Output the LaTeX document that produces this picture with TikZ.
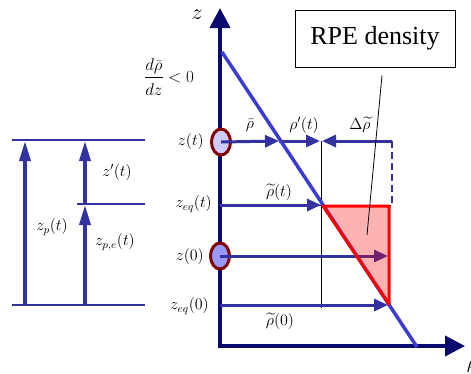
\RequirePackage{fix-cm}
\documentclass[tikz,border=0pt]{standalone}
\usepackage{amsmath}
\usepackage{fontspec}
\setmainfont{Liberation Serif}
\usetikzlibrary{arrows.meta, shapes.geometric}

\definecolor{axisblue}{RGB}{10,10,110}
\definecolor{flowblue}{RGB}{50,50,160}
\definecolor{lineblue}{RGB}{60,60,210}
\definecolor{parcelred}{RGB}{130,0,0}

\begin{document}
\begin{tikzpicture}[x=1pt, y=-1pt, line join=miter,
      axis/.style={line width=4pt, draw=axisblue,
                   {Triangle[length=20pt, width=20pt]}-{Triangle[length=20pt, width=20pt]}},
      flow/.style={line width=3pt, draw=flowblue, -{Triangle[length=14pt, width=12pt]}},
      rise/.style={line width=3.5pt, draw=flowblue, -{Triangle[length=20pt, width=11pt]}},
      lvl/.style={line width=1.5pt, draw=flowblue},
      parcel/.style={ellipse, draw=parcelred, line width=3pt, minimum width=19pt,
                     minimum height=26pt, inner sep=0pt},
      lbl/.style={font=\fontsize{16}{19}\selectfont, inner sep=1pt},
      guide/.style={draw=black, line width=0.8pt}]

    \useasboundingbox (0,0) rectangle (471,373);

    % axes
    \coordinate (ztip)   at (220,8);
    \coordinate (orig)   at (220,346);
    \coordinate (rhotip) at (465,346);
    \draw[axis] (ztip) -- (orig) -- (rhotip);
    \node[lbl, font=\fontsize{22}{24}\selectfont] (zlab)   at (197,15)  {$z$};
    \node[lbl, font=\fontsize{20}{24}\selectfont] (rholab) at (472,366) {$\rho$};
    \node[lbl, font=\fontsize{17}{20}\selectfont] (grad)   at (169,77)
      {$\displaystyle\frac{d\bar{\rho}\rule[-4pt]{0pt}{4pt}}{dz\rule{0pt}{15pt}} < 0$};

    % fluid parcels
    \node[parcel, fill=blue!20]       (pz) at (221,142) {};
    \node[parcel, fill=blue!40]       (p0) at (220,256) {};

    % levels on the z axis
    \node[lbl, anchor=east] (lzt)  at (205,141) {$z(t)$};
    \node[lbl, anchor=east] (lzet) at (213,204) {$z_{eq}(t)$};
    \node[lbl, anchor=east] (lz0)  at (205,256) {$z(0)$};
    \node[lbl, anchor=east] (lze0) at (210,306) {$z_{eq}(0)$};

    % thin guides
    \coordinate (gtop) at (321,141);
    \coordinate (gbot) at (321,308);
    \coordinate (gl)   at (280,205);
    \coordinate (gr)   at (391,205);
    \draw[guide] (gtop) -- (gbot);
    \draw[guide] (gl) -- (gr);

    % density arrows
    \coordinate (rbar)  at (279,141);
    \coordinate (rprim) at (320,141);
    \coordinate (dtail) at (392,141);
    \coordinate (dhead) at (322,141);
    \coordinate (dlow)  at (392,206);
    \coordinate (eqt0)  at (220,205);
    \coordinate (eqt1)  at (321,205);
    \coordinate (z01)   at (388,256);
    \coordinate (eq00)  at (220,305);
    \coordinate (eq01)  at (388,305);
    \draw[flow] (pz.center) -- (rbar);
    \draw[flow] (rbar) -- (rprim);
    \draw[flow] (dtail) -- (dhead);
    \draw[flowblue, line width=2pt, dash pattern=on 7pt off 4pt] (dtail) -- (dlow);
    \draw[flow] (eqt0) -- (eqt1);
    \draw[flow] (p0.center) -- (z01);
    \draw[flow] (eq00) -- (eq01);

    \node[lbl] (lrbar) at (250,126) {$\bar{\rho}$};
    \node[lbl] (lrpr)  at (304,125) {$\rho'(t)$};
    \node[lbl] (ldrt)  at (360,125) {$\Delta\widetilde{\rho}$};
    \node[lbl] (lrtt)  at (279,192) {$\widetilde{\rho}(t)$};
    \node[lbl] (lrt0)  at (280,321) {$\widetilde{\rho}(0)$};

    % background profile
    \coordinate (dtop) at (222,52);
    \coordinate (dbot) at (417,347);
    \draw[lineblue, line width=3.5pt] (dtop) -- (dbot);

    % RPE triangle
    \coordinate (ta) at (323,206);
    \coordinate (tb) at (389,206);
    \coordinate (tc) at (389,304);
    \fill[red, opacity=0.3] (ta) -- (tb) -- (tc) -- cycle;
    \draw[red, line width=3pt, line join=round] (ta) -- (tb) -- (tc) -- cycle;

    % label box
    \node[draw, line width=1pt, minimum width=160pt, minimum height=57pt,
          font=\fontsize{26}{30}\selectfont] (rpe) at (375,38.5) {RPE density};
    \coordinate (ptr) at (367,235);
    \draw[guide] ([xshift=7pt, yshift=-8pt]rpe.south) -- (ptr);

    % parcel displacement
    \coordinate (a1) at (12,140);   \coordinate (a2) at (145,140);
    \coordinate (b1) at (77,204);   \coordinate (b2) at (145,204);
    \coordinate (c1) at (12,305);   \coordinate (c2) at (145,305);
    \draw[lvl] (a1) -- (a2);
    \draw[lvl] (b1) -- (b2);
    \draw[lvl] (c1) -- (c2);
    \coordinate (zp0) at (25,305);  \coordinate (zp1) at (25,141);
    \coordinate (ze0) at (85,305);  \coordinate (ze1) at (85,205);
    \coordinate (zq1) at (85,141);
    \draw[rise] (zp0) -- (zp1);
    \draw[rise] (ze0) -- (ze1);
    \draw[rise] (ze1) -- (zq1);
    \node[lbl] (lzpr) at (117,172) {$z'(t)$};
    \node[lbl] (lzp)  at (52,227)  {$z_p(t)$};
    \node[lbl] (lzpe) at (115,242) {$z_{p,e}(t)$};

\end{tikzpicture}
\end{document}
